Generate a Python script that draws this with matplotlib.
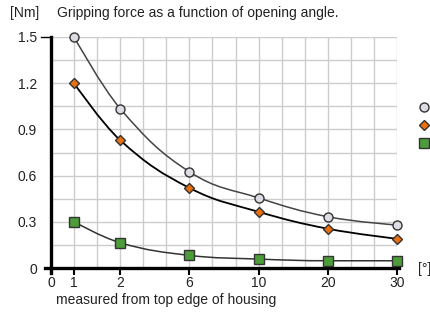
import matplotlib
matplotlib.use("Agg")
import matplotlib.pyplot as plt
from matplotlib.path import Path
from matplotlib.patches import PathPatch
from matplotlib.lines import Line2D
import numpy as np

plt.rcParams['font.family'] = ['Liberation Sans', 'DejaVu Sans']

# opening angle [deg] and gripping force [Nm] per gripper size
angles = [1, 2, 6, 10, 20, 30]
force_large = [1.50, 1.035, 0.625, 0.455, 0.333, 0.279]
force_medium = [1.20, 0.83, 0.52, 0.365, 0.255, 0.19]
force_small = [0.30, 0.164, 0.082, 0.058, 0.047, 0.047]

# x axis is not linear: labelled ticks sit on fixed grid columns
tick_labels = [0, 1, 2, 6, 10, 20, 30]
tick_cols = [0, 1, 3, 6, 9, 12, 15]
y_ticks = [0, 0.3, 0.6, 0.9, 1.2, 1.5]


def spline_path(xs, ys, smoothing=1.5):
    # smooth curve through the points, cubic beziers
    n = len(xs)
    left = [(xs[i], ys[i]) for i in range(n)]
    right = [(xs[i], ys[i]) for i in range(n)]
    d = smoothing + 1
    for i in range(1, n - 1):
        px, py = xs[i], ys[i]
        lx, ly = xs[i - 1], ys[i - 1]
        nx, ny = xs[i + 1], ys[i + 1]
        lcx = (smoothing * px + lx) / d
        lcy = (smoothing * py + ly) / d
        rcx = (smoothing * px + nx) / d
        rcy = (smoothing * py + ny) / d
        if rcx != lcx:
            corr = (rcy - lcy) * (rcx - px) / (rcx - lcx) + py - rcy
            lcy += corr
            rcy += corr
            if lcy > ly and lcy > py:
                lcy = max(ly, py); rcy = 2 * py - lcy
            elif lcy < ly and lcy < py:
                lcy = min(ly, py); rcy = 2 * py - lcy
            if rcy > ny and rcy > py:
                rcy = max(ny, py); lcy = 2 * py - rcy
            elif rcy < ny and rcy < py:
                rcy = min(ny, py); lcy = 2 * py - rcy
        left[i] = (lcx, lcy)
        right[i] = (rcx, rcy)
    verts = [(xs[0], ys[0])]
    codes = [Path.MOVETO]
    for i in range(1, n):
        verts += [right[i - 1], left[i], (xs[i], ys[i])]
        codes += [Path.CURVE4] * 3
    return Path(verts, codes)


fig = plt.figure(figsize=(4.31, 3.13), dpi=100)
ax = fig.add_axes([51 / 431, 45 / 313, 346 / 431, 231 / 313])

x = np.interp(angles, tick_labels, tick_cols)

# grid
for c in range(1, 16):
    ax.axvline(c, color='#cccccc', lw=1.0, zorder=0)
for v in np.arange(0.15, 1.51, 0.15):
    ax.axhline(v, color='#cccccc', lw=1.0, zorder=0)

series = [
    (force_large, '#444444', 1.1, 'o', '#dcdce4', 6.5),
    (force_medium, '#000000', 1.3, 'D', '#e8700f', 5.0),
    (force_small, '#333333', 1.1, 's', '#4d9c3a', 6.5),
]
handles = []
for ys, lc, lw, m, fc, ms in series:
    ax.add_patch(PathPatch(spline_path(list(x), ys), fill=False,
                           edgecolor=lc, lw=lw, zorder=2, clip_on=False))
    ax.plot(x, ys, ls='none', marker=m, ms=ms, mfc=fc, mec='#333333',
            mew=1.0, zorder=3, clip_on=False)
    handles.append(Line2D([], [], ls='none', marker=m, ms=ms, mfc=fc,
                          mec='#333333', mew=1.0))

ax.set_xlim(0, 15)
ax.set_ylim(0, 1.5)
ax.set_xticks(tick_cols)
ax.set_xticklabels([str(t) for t in tick_labels])
ax.set_yticks(y_ticks)
ax.set_yticklabels(['0', '0.3', '0.6', '0.9', '1.2', '1.5'])
ax.tick_params(axis='x', length=5, width=1.5, color='black', pad=1,
               labelsize=10, labelcolor='#222222')
ax.tick_params(axis='y', length=0, pad=10, labelsize=10,
               labelcolor='#222222')

for s in ['top', 'right']:
    ax.spines[s].set_visible(False)
ax.spines['left'].set_linewidth(2.4)
ax.spines['bottom'].set_linewidth(2.4)
ax.spines['bottom'].set_bounds(-0.28, 15.1)
ax.spines['left'].set_bounds(-0.03, 1.5)
ax.plot([-0.45, 0], [1.5, 1.5], color='black', lw=1.0, clip_on=False)

fig.text(10 / 431, 1 - 13 / 313, '[Nm]', fontsize=10, color='#222222',
         va='center')
fig.text(57 / 431, 1 - 13 / 313, 'Gripping force as a function of opening angle.',
         fontsize=10, color='#222222', va='center')
fig.text(418 / 431, 1 - 269 / 313, '[°]', fontsize=10, color='#222222',
         va='center')
fig.text(166 / 431, 1 - 300 / 313, 'measured from top edge of housing',
         fontsize=10, color='#222222', va='center', ha='center')

ax.legend(handles, ['', '', ''], loc='center', frameon=False,
          bbox_to_anchor=(424 / 431, 1 - 126 / 313),
          bbox_transform=fig.transFigure, handlelength=0.6,
          handletextpad=0, labelspacing=0.3, borderpad=0)

fig.savefig('out.png', dpi=100)
